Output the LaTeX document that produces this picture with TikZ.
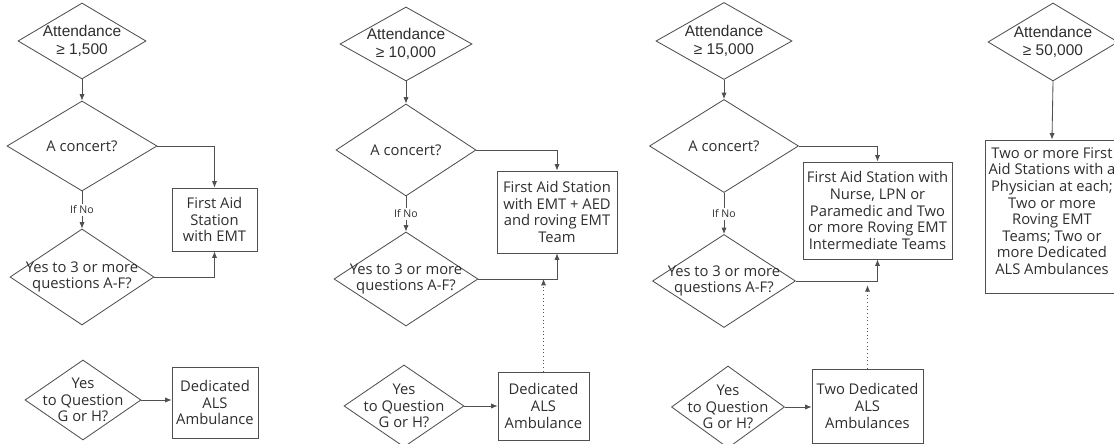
\documentclass[tikz,border=0pt]{standalone}
\usepackage{fontspec}
\setmainfont{Open Sans}
\newfontfamily\arialfont{Liberation Sans}
\usepackage{tikz}
\usetikzlibrary{arrows.meta,shapes.geometric}
\definecolor{lin}{HTML}{505050}
\definecolor{ink}{HTML}{2e2e2e}

\begin{document}
\begin{tikzpicture}[
  x=0.025cm, y=-0.025cm,
  font=\fontsize{10.5}{11.8}\selectfont, text=ink,
  dec/.style={diamond, draw=lin, line width=0.6pt, inner sep=0pt},
  att/.style={align=center, font=\arialfont\fontsize{11}{12.5}\selectfont},
  qtxt/.style={align=center},
  box/.style={draw=lin, line width=0.6pt, align=center, inner sep=2pt},
  ifno/.style={font=\fontsize{7.5}{8}\selectfont, inner sep=1pt},
  arr/.style={-{Latex[length=1.6mm,width=1.3mm]}, draw=lin, line width=0.6pt},
  dotarr/.style={arr, dotted},
  ln/.style={draw=lin, line width=0.6pt}]
\useasboundingbox (0,0) rectangle (1114,444);
\clip (0,0) rectangle (1114,444);

% --- attendance >= 1,500
\node[dec, minimum width=3.2cm, minimum height=1.9cm,
  label={[att]center:Attendance\\≥ 1,500}] (att1) at (82,41) {};
\node[dec, minimum width=3.75cm, minimum height=2.25cm,
  label={[qtxt]center:A concert?}] (con1) at (82,146) {};
\node[ifno] (no1) at (82,210) {If No};
\node[dec, minimum width=3.6cm, minimum height=2.4cm,
  label={[qtxt]center:Yes to 3 or more\\questions A-F?}] (yes1) at (82,277) {};
\node[dec, minimum width=2.9cm, minimum height=2cm,
  label={[qtxt]center:Yes\\to Question\\G or H?}] (gh1) at (83,400) {};
\node[box, minimum width=2.125cm, minimum height=1.575cm] (fa1) at (214.5,219.5)
  {First Aid\\Station\\with EMT};
\node[box, minimum width=2.15cm, minimum height=1.775cm] (al1) at (215,402.5)
  {Dedicated\\ALS\\Ambulance};

% --- attendance >= 10,000
\node[dec, minimum width=3.3cm, minimum height=1.85cm,
  label={[att]center:Attendance\\≥ 10,000}] (att2) at (406,44) {};
\node[dec, minimum width=3.5cm, minimum height=2.3cm,
  label={[qtxt]center:A concert?}] (con2) at (406,150) {};
\node[ifno] (no2) at (406,214) {If No};
\node[dec, minimum width=3.6cm, minimum height=2.35cm,
  label={[qtxt]center:Yes to 3 or more\\questions A-F?}] (yes2) at (406,279) {};
\node[dec, minimum width=3cm, minimum height=2.05cm,
  label={[qtxt]center:Yes\\to Question\\G or H?}] (gh2) at (404,406) {};
\node[box, minimum width=3cm, minimum height=2.05cm] (fa2) at (557,212)
  {First Aid Station\\with EMT + AED\\and roving EMT\\Team};
\node[box, minimum width=2.275cm, minimum height=1.7cm] (al2) at (543.5,406)
  {Dedicated\\ALS\\Ambulance};

% --- attendance >= 15,000
\node[dec, minimum width=3.4cm, minimum height=1.925cm,
  label={[att]center:Attendance\\≥ 15,000}] (att3) at (724,41) {};
\node[dec, minimum width=3.725cm, minimum height=2.325cm,
  label={[qtxt]center:A concert?}] (con3) at (724,146) {};
\node[ifno] (no3) at (724,214) {If No};
\node[dec, minimum width=3.575cm, minimum height=2.325cm,
  label={[qtxt]center:Yes to 3 or more\\questions A-F?}] (yes3) at (724,281) {};
\node[dec, minimum width=2.825cm, minimum height=2.05cm,
  label={[qtxt]center:Yes\\to Question\\G or H?}] (gh3) at (728,407) {};
\node[box, minimum width=3.725cm, minimum height=2.425cm] (fa3) at (877.5,210.5)
  {First Aid Station with\\Nurse, LPN or\\Paramedic and Two\\or more Roving EMT\\Intermediate Teams};
\node[box, minimum width=2.775cm, minimum height=1.85cm] (al3) at (867.5,406)
  {Two Dedicated\\ALS\\Ambulances};

% --- attendance >= 50,000
\node[dec, minimum width=3.25cm, minimum height=1.95cm,
  label={[att]center:Attendance\\≥ 50,000}] (att4) at (1053,42) {};
\node[box, minimum width=3.25cm, minimum height=3.825cm] (fa4) at (1052,216.5)
  {Two or more First\\Aid Stations with a\\Physician at each;\\Two or more\\Roving EMT\\Teams; Two or\\more Dedicated\\ALS Ambulances\\[-4pt]};

% connectors
\foreach \i in {1,2,3} {
  \draw[arr] (att\i.south) -- (con\i.north);
  \draw[ln] (con\i.south) -- (no\i.north);
  \draw[arr] (no\i.south) -- (yes\i.north);
  \draw[arr] (con\i.east) -| (fa\i.north);
  \draw[arr] (yes\i.east) -| (fa\i.south);
  \draw[arr] (gh\i.east) -- (gh\i.east -| al\i.west);
}
\draw[dotarr] (al2.north) -- (al2.north |- yes2.east);
\draw[dotarr] (al3.north) -- ([yshift=-3pt]al3.north |- yes3.east);
\draw[arr] (att4.south) -- (fa4.north);
\end{tikzpicture}
\end{document}
